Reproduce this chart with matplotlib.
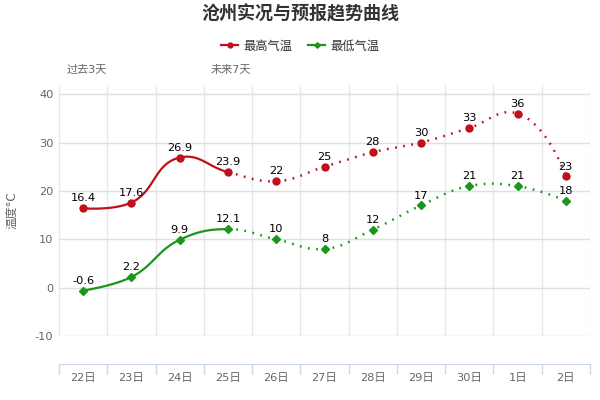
import numpy as np
import matplotlib
matplotlib.use("Agg")
import matplotlib.pyplot as plt
from matplotlib.lines import Line2D

plt.rcParams["font.family"] = ["DejaVu Sans", "Noto Sans CJK SC"]
plt.rcParams["axes.unicode_minus"] = False

# ── data ─────────────────────────────────────────────────────────────
DAYS = ["22日", "23日", "24日", "25日", "26日", "27日", "28日", "29日", "30日", "1日", "2日"]
T_MAX = [16.4, 17.6, 26.9, 23.9, 22, 25, 28, 30, 33, 36, 23]
T_MIN = [-0.6, 2.2, 9.9, 12.1, 10, 8, 12, 17, 21, 21, 18]
N_PAST = 4          # first 4 points observed (solid), rest forecast (dotted)
Y_TICKS = [-10, 0, 10, 20, 30, 40]

RED = "#c0101a"
GREEN = "#1b961b"
GRID_H = "#d8e0ea"
GRID_V = "#e8e8e8"
TXT = "#666666"


def spline_pixels(px, py, smoothing=1.5, n=40):
    """Highcharts-like spline through pixel points; returns list of sampled segments."""
    npts = len(px)
    lc = [(px[i], py[i]) for i in range(npts)]
    rc = [(px[i], py[i]) for i in range(npts)]
    d = smoothing + 1
    for i in range(1, npts - 1):
        x, y = px[i], py[i]
        lx = (smoothing * x + px[i - 1]) / d; ly = (smoothing * y + py[i - 1]) / d
        rx = (smoothing * x + px[i + 1]) / d; ry = (smoothing * y + py[i + 1]) / d
        dl = np.hypot(lx - x, ly - y); dr = np.hypot(rx - x, ry - y)
        la = np.arctan2(ly - y, lx - x); ra = np.arctan2(ry - y, rx - x)
        ja = np.pi / 2 + (la + ra) / 2
        if abs(la - ja) > np.pi / 2:
            ja -= np.pi
        lc[i] = (x + np.cos(ja) * dl, y + np.sin(ja) * dl)
        rc[i] = (x + np.cos(np.pi + ja) * dr, y + np.sin(np.pi + ja) * dr)
    segs = []
    t = np.linspace(0, 1, n)[:, None]
    for i in range(npts - 1):
        p0 = np.array([px[i], py[i]]); p1 = np.array(rc[i])
        p2 = np.array(lc[i + 1]); p3 = np.array([px[i + 1], py[i + 1]])
        seg = ((1 - t) ** 3) * p0 + 3 * ((1 - t) ** 2) * t * p1 + 3 * (1 - t) * t ** 2 * p2 + t ** 3 * p3
        segs.append(seg)
    return segs


fig = plt.figure(figsize=(6, 4), dpi=100)
ax = fig.add_axes([59 / 600, 1 - 336 / 400, 531 / 600, (336 - 85) / 400])
x = np.arange(len(DAYS))
ax.set_xlim(-0.5, len(DAYS) - 0.5)
ax.set_ylim(-10, 41.9)

# grid / axes styling
ax.set_yticks(Y_TICKS)
ax.set_xticks(x)
ax.set_xticklabels(DAYS)
ax.set_xticks(np.arange(-0.5, len(DAYS)), minor=True)
ax.grid(axis="y", color=GRID_H, lw=1)
ax.grid(axis="x", which="minor", color=GRID_V, lw=1)
for s in ["top", "right", "left"]:
    ax.spines[s].set_visible(False)
ax.spines["bottom"].set_position(("outward", 20.2))
ax.spines["bottom"].set_color("#ccd6eb")
ax.tick_params(axis="y", length=0, labelsize=8.2, labelcolor=TXT, pad=4)
ax.tick_params(axis="x", which="major", length=0, labelsize=8.2, labelcolor=TXT, pad=6.5)
ax.tick_params(axis="x", which="minor", length=7.5, color="#ccd6eb", width=1)
ax.set_axisbelow(True)

ax.set_ylabel("温度°C", fontsize=8.5, color=TXT, labelpad=12)

# curves
for vals, col, mk, ms in [(T_MAX, RED, "o", 5.0), (T_MIN, GREEN, "D", 3.6)]:
    pix = ax.transData.transform(np.column_stack([x, vals]))
    segs = spline_pixels(pix[:, 0], pix[:, 1])
    inv = ax.transData.inverted()
    solid = inv.transform(np.vstack(segs[:N_PAST - 1]))
    dotted = inv.transform(np.vstack(segs[N_PAST - 1:]))
    ax.plot(solid[:, 0], solid[:, 1], color=col, lw=1.6, solid_capstyle="round", zorder=3)
    ax.plot(dotted[:, 0], dotted[:, 1], color=col, lw=1.8, linestyle=(0, (0.7, 2.6)),
            dash_capstyle="butt", zorder=3)
    ax.plot(x, vals, linestyle="none", marker=mk, ms=ms, color=col, zorder=4)
    for xi, v in zip(x, vals):
        ax.annotate(f"{v:g}", (xi, v), xytext=(0, 3.5), textcoords="offset points",
                    ha="center", va="bottom", fontsize=8.2, color="black", zorder=5)

# title, legend, annotations
fig.text(0.5, 1 - 14 / 400, "沧州实况与预报趋势曲线", ha="center", va="center",
         fontsize=13, fontweight="bold", color="#333333")
handles = [Line2D([], [], color=RED, lw=1.6, marker="o", ms=3.5),
           Line2D([], [], color=GREEN, lw=1.6, marker="D", ms=2.8)]
fig.legend(handles, ["最高气温", "最低气温"], loc="center", bbox_to_anchor=(0.5, 1 - 46 / 400),
           ncol=2, frameon=False, fontsize=8.8, handlelength=1.4, handletextpad=0.4,
           columnspacing=1.3, labelcolor="#333333")
fig.text(67 / 600, 1 - 70 / 400, "过去3天", ha="left", va="center", fontsize=8, color=TXT)
fig.text(211 / 600, 1 - 70 / 400, "未来7天", ha="left", va="center", fontsize=8, color=TXT)

fig.savefig("out.png", dpi=100)
